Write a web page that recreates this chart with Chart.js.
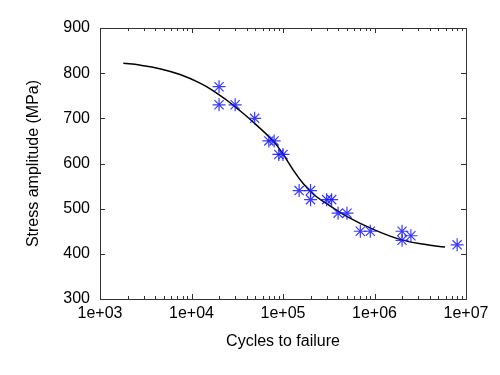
<!DOCTYPE html>
<html>
<head>
<meta charset="utf-8">
<script src="https://cdn.jsdelivr.net/npm/chart.js@4"></script>
<style>
  html, body { margin: 0; padding: 0; background: #fff; }
  #wrap { width: 500px; height: 375px; }
</style>
</head>
<body>
<div id="wrap"><canvas id="Chart_sn"></canvas></div>
<script>
// Test data: cycles to failure and stress amplitude
const cycles = [2e4, 2e4, 3e4, 4.9e4, 7e4, 8e4, 9e4, 1e5, 1.5e5, 2e5, 2e5, 3e5, 3.4e5, 4e5, 5e5, 7e5, 9e5, 2e6, 2e6, 2.5e6, 8e6];
const stress = [770, 730, 730, 700, 650, 650, 620, 620, 540, 540, 520, 520, 520, 490, 490, 450, 450, 450, 430, 440, 420];

// Fitted curve
const fitCycles = [1.8e3, 2.7e3, 4.5e3, 7.5e3, 1.24e4, 1.73e4, 2.43e4, 3.24e4, 4.36e4, 7.8e4, 1e5, 1.29e5, 1.67e5, 2.15e5, 3e5, 4.96e5, 1e6, 1.9e6, 3.5e6, 5.9e6];
const fitStress = [822, 818, 810, 797, 778, 761, 740, 720, 698, 650, 621, 586, 555, 532, 511, 483, 453, 432, 421, 415];

// Tick labels
const xTickValues = [1e3, 1e4, 1e5, 1e6, 1e7];
const xTickLabels = ['1e+03', '1e+04', '1e+05', '1e+06', '1e+07'];
const yTickValues = [300, 400, 500, 600, 700, 800, 900];

Chart.defaults.font.family = '"Liberation Sans", Arial, Helvetica, sans-serif';
Chart.defaults.font.size = 16;
Chart.defaults.color = '#000';

// Frame around the plot area plus inward ticks on all four sides
const framePlugin = {
    id: 'frame',
    afterDraw(chart) {
        const { ctx, chartArea: a, scales } = chart;
        const x = scales.x, y = scales.y;
        ctx.save();
        ctx.strokeStyle = '#333';
        ctx.lineWidth = 1;
        ctx.beginPath();
        // major y ticks, left and right
        yTickValues.forEach(v => {
            const py = Math.round(y.getPixelForValue(v)) + 0.5;
            ctx.moveTo(a.left, py); ctx.lineTo(a.left + 5, py);
            ctx.moveTo(a.right, py); ctx.lineTo(a.right - 5, py);
        });
        // major and minor x ticks, bottom and top
        xTickValues.forEach((d, i) => {
            const px = Math.round(x.getPixelForValue(d)) + 0.5;
            ctx.moveTo(px, a.bottom); ctx.lineTo(px, a.bottom - 5);
            ctx.moveTo(px, a.top); ctx.lineTo(px, a.top + 5);
            if (i < xTickValues.length - 1) {
                for (let m = 2; m <= 9; m++) {
                    const mx = Math.round(x.getPixelForValue(m * d)) + 0.5;
                    ctx.moveTo(mx, a.bottom); ctx.lineTo(mx, a.bottom - 3);
                    ctx.moveTo(mx, a.top); ctx.lineTo(mx, a.top + 3);
                }
            }
        });
        ctx.stroke();
        ctx.strokeRect(Math.round(a.left) + 0.5, Math.round(a.top) + 0.5,
            Math.round(a.right - a.left), Math.round(a.bottom - a.top));
        ctx.restore();
    }
};

const ctx = document.getElementById('Chart_sn').getContext('2d');

new Chart(ctx, {
    type: 'scatter',
    data: {
        datasets: [
            {
                label: 'Fit',
                type: 'line',
                data: fitCycles.map((c, i) => ({ x: c, y: fitStress[i] })),
                borderColor: '#000',
                borderWidth: 1.5,
                pointRadius: 0,
                tension: 0.4,
                fill: false,
                order: 2
            },
            {
                label: 'Tests',
                data: cycles.map((c, i) => ({ x: c, y: stress[i] })),
                pointStyle: 'star',
                pointRadius: 6.5,
                pointBorderWidth: 1.2,
                borderColor: 'rgba(25, 25, 255, 0.85)',
                backgroundColor: 'rgba(25, 25, 255, 0.85)',
                showLine: false,
                order: 1
            }
        ]
    },
    options: {
        responsive: true,
        maintainAspectRatio: false,
        animation: false,
        layout: {
            padding: { left: 0, top: 28, right: 34, bottom: 0 }
        },
        scales: {
            x: {
                type: 'logarithmic',
                min: 1e3,
                max: 1e7,
                afterBuildTicks: scale => {
                    scale.ticks = xTickValues.map(v => ({ value: v }));
                },
                afterFit: scale => { scale.height = 76; },
                ticks: {
                    padding: 5,
                    maxRotation: 0,
                    callback: (value) => xTickLabels[xTickValues.indexOf(value)]
                },
                grid: { display: false, drawTicks: false },
                border: { display: false },
                title: {
                    display: true,
                    text: 'Cycles to failure',
                    padding: { top: 0, bottom: 24 }
                }
            },
            y: {
                min: 300,
                max: 900,
                afterBuildTicks: scale => {
                    scale.ticks = yTickValues.map(v => ({ value: v }));
                },
                afterFit: scale => { scale.width = 100; },
                ticks: { padding: 10 },
                grid: { display: false, drawTicks: false },
                border: { display: false },
                title: {
                    display: true,
                    text: 'Stress amplitude (MPa)',
                    padding: { top: 24, bottom: 0 }
                }
            }
        },
        plugins: {
            legend: { display: false },
            tooltip: { enabled: false }
        }
    },
    plugins: [framePlugin]
});
</script>
</body>
</html>
